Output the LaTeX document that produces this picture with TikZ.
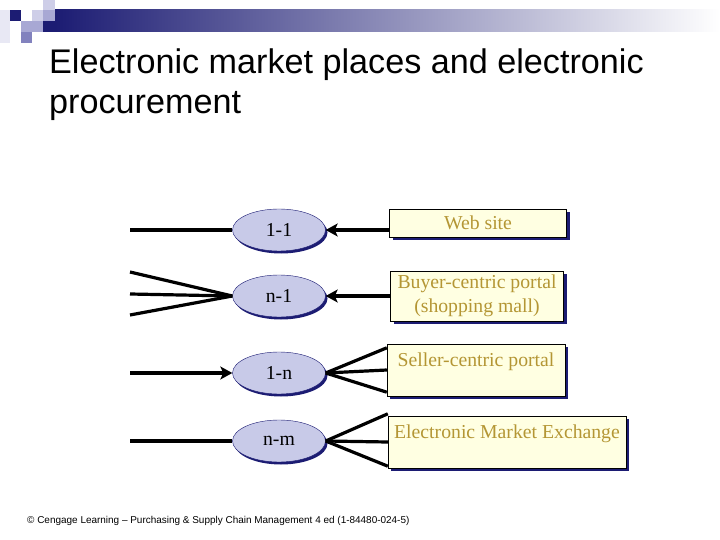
\documentclass[tikz,border=0pt]{standalone}
\usepackage{fontspec}
\setmainfont{Liberation Serif}
\newfontfamily\arialfont{Liberation Sans}
\usetikzlibrary{shapes.geometric,shadows,arrows.meta}

\definecolor{azulosc}{RGB}{28,28,115}
\definecolor{lila}{RGB}{200,202,232}
\definecolor{crema}{RGB}{255,255,226}
\definecolor{oro}{RGB}{180,150,52}
\definecolor{bloqueA}{RGB}{232,232,244}
\definecolor{bloqueB}{RGB}{206,206,232}
\definecolor{bloqueC}{RGB}{168,168,212}
\definecolor{bloqueD}{RGB}{130,130,190}

\begin{document}
\begin{tikzpicture}[x=1bp, y=-1bp,
  elip/.style={ellipse, draw=azulosc, thin, fill=lila, inner sep=0pt,
    minimum width=93bp, minimum height=42bp,
    font=\fontsize{19.8}{24}\selectfont,
    drop shadow={shadow xshift=2bp, shadow yshift=-2.5bp, fill=azulosc, opacity=1}},
  caja/.style={rectangle, draw=black, thin, fill=crema, text=oro,
    align=center, font=\fontsize{19.8}{24}\selectfont,
    drop shadow={shadow xshift=3bp, shadow yshift=-3bp, fill=azulosc, opacity=1}},
  cajaalta/.style={caja, text height=18bp, text depth=26bp, inner ysep=4bp},
  linea/.style={line width=3.2bp},
  flecha/.style={linea, -{Stealth[length=12bp, width=13bp, inset=3bp]}}
]
\useasboundingbox (0,0) rectangle (720,540);

% ── Cabecera: bloques y barra degradada ───────────────────────
\fill[bloqueA] (0,10) rectangle (10,43);
\fill[azulosc] (10,10) rectangle (21,21);
\fill[bloqueB] (32,10) rectangle (43,21);
\fill[bloqueB] (43,0) rectangle (55,10);
\fill[bloqueC] (43,10) rectangle (55,21);
\fill[bloqueC] (21,21) rectangle (43,32);
\fill[bloqueD] (21,32) rectangle (32,43);
\shade[left color=azulosc, right color=white] (55,10) rectangle (720,32);
\fill[azulosc] (43,21) rectangle (55,32);

% ── Título ────────────────────────────────────────────────────
\node[anchor=base west, inner sep=0pt, font=\arialfont\fontsize{34.3}{40}\selectfont]
  (tit1) at (49,74) {Electronic market places and electronic};
\node[anchor=base west, inner sep=0pt, font=\arialfont\fontsize{34.3}{40}\selectfont]
  (tit2) at (49,114) {procurement};

% ── Elipses ───────────────────────────────────────────────────
\node[elip] (e11) at (279,230) {1-1};
\node[elip] (en1) at (279,296) {n-1};
\node[elip] (e1n) at (279,373) {1-n};
\node[elip] (enm) at (279,441) {n-m};

% ── Cajas ─────────────────────────────────────────────────────
\node[caja, minimum width=177bp, minimum height=28bp] (web) at (478,223)
  {Web site};
\node[caja, minimum width=173bp, minimum height=50bp] (buyer) at (477,296)
  {Buyer-centric portal\\(shopping mall)};
\node[cajaalta, minimum width=178bp] (seller) at (476,370)
  {Seller-centric portal};
\node[cajaalta, minimum width=238bp] (exch) at (507,442)
  {Electronic Market Exchange};

% ── Lado izquierdo ────────────────────────────────────────────
\coordinate (i11)  at (130,230);
\coordinate (in1a) at (130,272);
\coordinate (in1b) at (130,294);
\coordinate (in1c) at (130,315);
\coordinate (i1n)  at (130,373);
\coordinate (inm)  at (130,441);
\draw[linea]  (i11)  -- (e11.west);
\draw[linea]  (in1a) -- (en1.west);
\draw[linea]  (in1b) -- (en1.west);
\draw[linea]  (in1c) -- (en1.west);
\draw[flecha] (i1n)  -- (e1n.west);
\draw[linea]  (inm)  -- (enm.west);

% ── Lado derecho ──────────────────────────────────────────────
\draw[flecha] (e11.east -| web.west) -- (e11.east);
\draw[flecha] (buyer.west) -- (en1.east);
\draw[linea] (e1n.east) -- ([yshift=-4bp]seller.north west);
\draw[linea] (e1n.east) -- (seller.west);
\draw[linea] (e1n.east) -- ([yshift=4bp]seller.south west);
\draw[linea] (enm.east) -- ([yshift=2bp]exch.north west);
\draw[linea] (enm.east) -- (exch.west);
\draw[linea] (enm.east) -- ([yshift=2bp]exch.south west);

% ── Pie ───────────────────────────────────────────────────────
\node[anchor=west, inner sep=0pt, font=\arialfont\fontsize{10}{12}\selectfont]
  (pie) at (27,521)
  {© Cengage Learning – Purchasing \& Supply Chain Management 4 ed (1-84480-024-5)};

\end{tikzpicture}
\end{document}
